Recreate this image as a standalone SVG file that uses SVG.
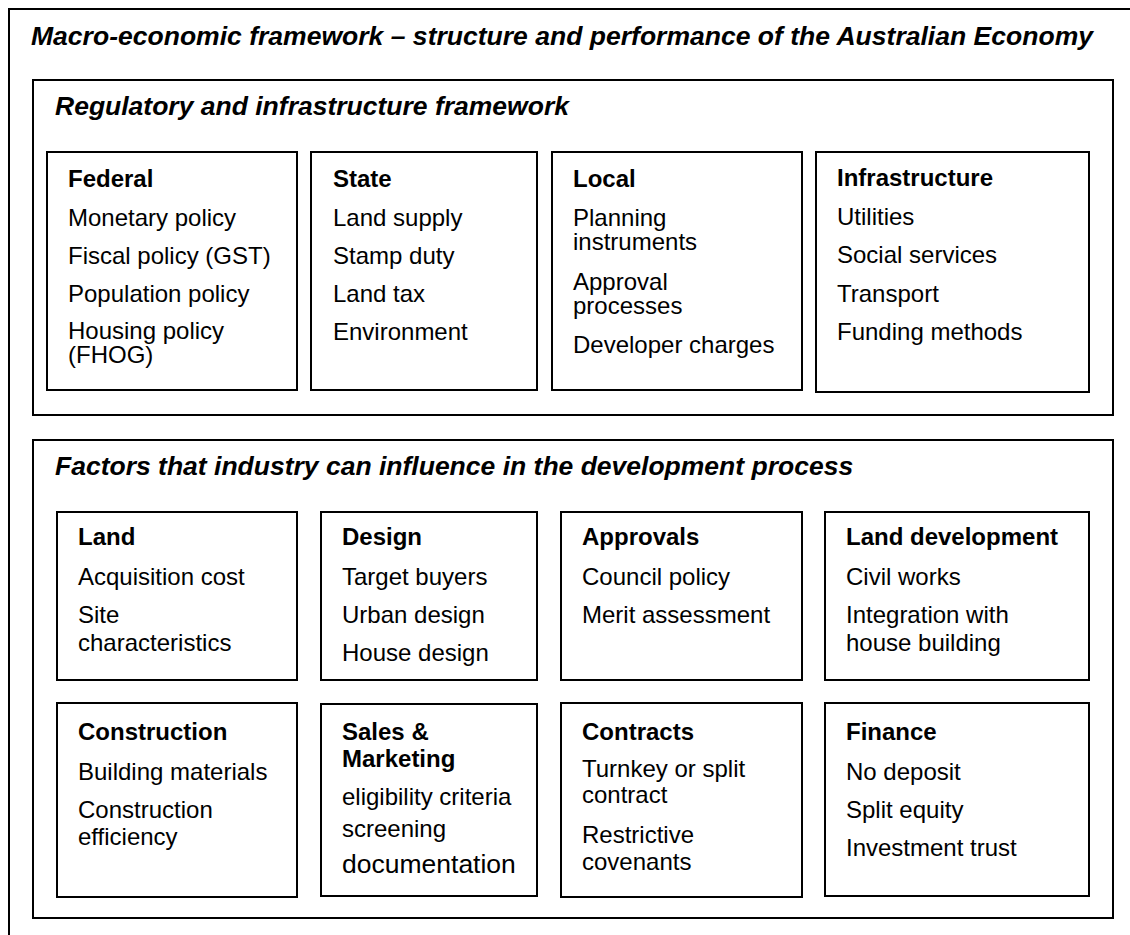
<svg xmlns="http://www.w3.org/2000/svg" width="1130" height="935" viewBox="0 0 1130 935">
<style>
rect{fill:#fff;stroke:#000;stroke-width:2}
text{font-family:"Liberation Sans",Arial,sans-serif;fill:#000}
.t{font-size:26.5px;font-weight:bold;font-style:italic}
.h{font-size:24px;font-weight:bold}
.b{font-size:24px}
.big{font-size:26.5px}
</style>
<rect width="1130" height="935" style="stroke:none"/>
<g id="outer">
<rect x="9" y="9" width="1140" height="940"/>
<text class="t" x="31" y="45" textLength="1062" lengthAdjust="spacingAndGlyphs">Macro-economic framework – structure and performance of the Australian Economy</text>
</g>
<g id="regulatory">
<rect x="33" y="80" width="1080" height="335"/>
<text class="t" x="55" y="115">Regulatory and infrastructure framework</text>
</g>
<g id="federal">
<rect x="47" y="152" width="250" height="238"/>
<text class="h" x="68" y="187">Federal</text>
<text class="b" x="68" y="226">Monetary policy</text>
<text class="b" x="68" y="264">Fiscal policy (GST)</text>
<text class="b" x="68" y="302">Population policy</text>
<text class="b" x="68" y="339">Housing policy<tspan x="68" dy="24">(FHOG)</tspan></text>
</g>
<g id="state">
<rect x="311" y="152" width="226" height="238"/>
<text class="h" x="333" y="187">State</text>
<text class="b" x="333" y="226">Land supply</text>
<text class="b" x="333" y="264">Stamp duty</text>
<text class="b" x="333" y="302">Land tax</text>
<text class="b" x="333" y="340">Environment</text>
</g>
<g id="local">
<rect x="552" y="152" width="250" height="238"/>
<text class="h" x="573" y="187">Local</text>
<text class="b" x="573" y="226">Planning<tspan x="573" dy="24">instruments</tspan></text>
<text class="b" x="573" y="290">Approval<tspan x="573" dy="24">processes</tspan></text>
<text class="b" x="573" y="353">Developer charges</text>
</g>
<g id="infrastructure">
<rect x="816" y="152" width="273" height="240"/>
<text class="h" x="837" y="186">Infrastructure</text>
<text class="b" x="837" y="225">Utilities</text>
<text class="b" x="837" y="263">Social services</text>
<text class="b" x="837" y="302">Transport</text>
<text class="b" x="837" y="340">Funding methods</text>
</g>
<g id="factors">
<rect x="33" y="440" width="1080" height="478"/>
<text class="t" x="55" y="475">Factors that industry can influence in the development process</text>
</g>
<g id="land">
<rect x="57" y="512" width="240" height="168"/>
<text class="h" x="78" y="545">Land</text>
<text class="b" x="78" y="585">Acquisition cost</text>
<text class="b" x="78" y="623">Site<tspan x="78" dy="28">characteristics</tspan></text>
</g>
<g id="design">
<rect x="321" y="512" width="216" height="168"/>
<text class="h" x="342" y="545">Design</text>
<text class="b" x="342" y="585">Target buyers</text>
<text class="b" x="342" y="623">Urban design</text>
<text class="b" x="342" y="661">House design</text>
</g>
<g id="approvals">
<rect x="561" y="512" width="241" height="168"/>
<text class="h" x="582" y="545">Approvals</text>
<text class="b" x="582" y="585">Council policy</text>
<text class="b" x="582" y="623">Merit assessment</text>
</g>
<g id="landdev">
<rect x="825" y="512" width="264" height="168"/>
<text class="h" x="846" y="545">Land development</text>
<text class="b" x="846" y="585">Civil works</text>
<text class="b" x="846" y="623">Integration with<tspan x="846" dy="28">house building</tspan></text>
</g>
<g id="construction">
<rect x="57" y="703" width="240" height="194"/>
<text class="h" x="78" y="740">Construction</text>
<text class="b" x="78" y="780">Building materials</text>
<text class="b" x="78" y="818">Construction<tspan x="78" dy="27">efficiency</tspan></text>
</g>
<g id="sales">
<rect x="321" y="704" width="216" height="192"/>
<text class="h" x="342" y="740">Sales &amp;<tspan x="342" dy="27">Marketing</tspan></text>
<text class="b" x="342" y="805">eligibility criteria</text>
<text class="b" x="342" y="837">screening</text>
<text class="b big" x="342" y="873">documentation</text>
</g>
<g id="contracts">
<rect x="561" y="703" width="241" height="194"/>
<text class="h" x="582" y="740">Contracts</text>
<text class="b" x="582" y="777">Turnkey or split<tspan x="582" dy="26">contract</tspan></text>
<text class="b" x="582" y="843">Restrictive<tspan x="582" dy="27">covenants</tspan></text>
</g>
<g id="finance">
<rect x="825" y="703" width="264" height="193"/>
<text class="h" x="846" y="740">Finance</text>
<text class="b" x="846" y="780">No deposit</text>
<text class="b" x="846" y="818">Split equity</text>
<text class="b" x="846" y="856">Investment trust</text>
</g>
<g id="connectors"/>
</svg>
